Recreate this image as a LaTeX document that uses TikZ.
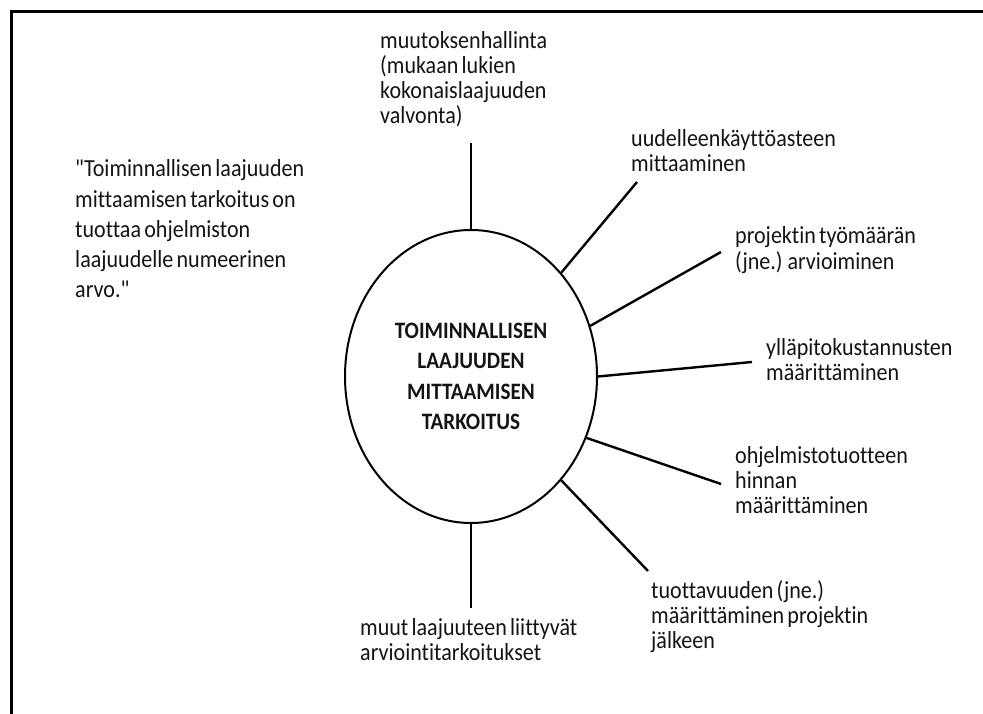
\documentclass[tikz,border=0pt]{standalone}
\usepackage{fontspec}
\setmainfont{Carlito}[FakeStretch=0.9, WordSpace=0.65, Ligatures={TeXOff, NoCommon}]
\usetikzlibrary{shapes.geometric}

% Left-aligned block of lines; the baseline is that of the first line.
\newcommand\lblock[2][25pt]{\vtop{\baselineskip=#1\lineskiplimit=-50pt\lineskip=0pt
  \halign{##\hfil\cr#2\crcr}}}
% Centred block of lines.
\newcommand\cblock[2][30.5pt]{\vtop{\baselineskip=#1\lineskiplimit=-50pt\lineskip=0pt
  \halign{\hfil##\hfil\cr#2\crcr}}}
% Straight double quote
\newcommand\sq{\symbol{34}}

\tikzset{
  label text/.style={anchor=base west, inner sep=0pt, text=black!92,
    font=\fontsize{24.5}{25}\selectfont},
  hub/.style={ellipse, draw, line width=2pt, inner sep=0pt,
    minimum width=252pt, minimum height=293pt, text=black!92,
    font=\bfseries\fontsize{23.5}{30.5}\selectfont},
  spoke/.style={line width=2.4pt, line cap=butt},
  frame/.style={line width=3.5pt}
}

\begin{document}
\begin{tikzpicture}[x=1pt, y=-1pt]
  \useasboundingbox (0,0) rectangle (983,714);

  % outer frame (left and top edges)
  \draw[frame] (11.5,714) -- (11.5,11.5) -- (983,11.5);

  % central ellipse
  \node[hub] (core) at (471,376.5)
    {\cblock{TOIMINNALLISEN\cr LAAJUUDEN\cr MITTAAMISEN\cr TARKOITUS}};

  % quotation
  \node[label text] (quote) at (75,177)
    {\lblock[30.25pt]{\sq Toiminnallisen laajuuden\cr mittaamisen tarkoitus on\cr
      tuottaa ohjelmiston\cr laajuudelle numeerinen\cr arvo.\sq}};

  % purpose labels
  \node[label text] (change) at (380,49)
    {\lblock{muutoksenhallinta\cr (mukaan lukien\cr kokonaislaajuuden\cr valvonta)}};
  \node[label text] (reuse) at (631,147)
    {\lblock{uudelleenkäyttöasteen\cr mittaaminen}};
  \node[label text] (effort) at (735,244)
    {\lblock{projektin työmäärän\cr (jne.) arvioiminen}};
  \node[label text] (upkeep) at (766,355)
    {\lblock{ylläpitokustannusten\cr määrittäminen}};
  \node[label text] (price) at (735,463)
    {\lblock{ohjelmistotuotteen\cr hinnan\cr määrittäminen}};
  \node[label text] (productivity) at (651,598)
    {\lblock{tuottavuuden (jne.)\cr määrittäminen projektin\cr jälkeen}};
  \node[label text] (other) at (360,635)
    {\lblock{muut laajuuteen liittyvät\cr arviointitarkoitukset}};

  % free ends of the spokes
  \coordinate (changeEnd) at (471,143);
  \coordinate (reuseEnd) at (637,182);
  \coordinate (effortEnd) at (721,252);
  \coordinate (upkeepEnd) at (752,362);
  \coordinate (priceEnd) at (721,484);
  \coordinate (productivityEnd) at (648,571);
  \coordinate (otherEnd) at (471,608);

  % spokes
  \draw[spoke] (core.90) -- (changeEnd);
  \draw[spoke] (core.49.6) -- (reuseEnd);
  \draw[spoke] (core.23.3) -- (effortEnd);
  \draw[spoke] (core.0) -- (upkeepEnd);
  \draw[spoke] (core.-28.5) -- (priceEnd);
  \draw[spoke] (core.-49.6) -- (productivityEnd);
  \draw[spoke] (core.-90) -- (otherEnd);
\end{tikzpicture}
\end{document}
